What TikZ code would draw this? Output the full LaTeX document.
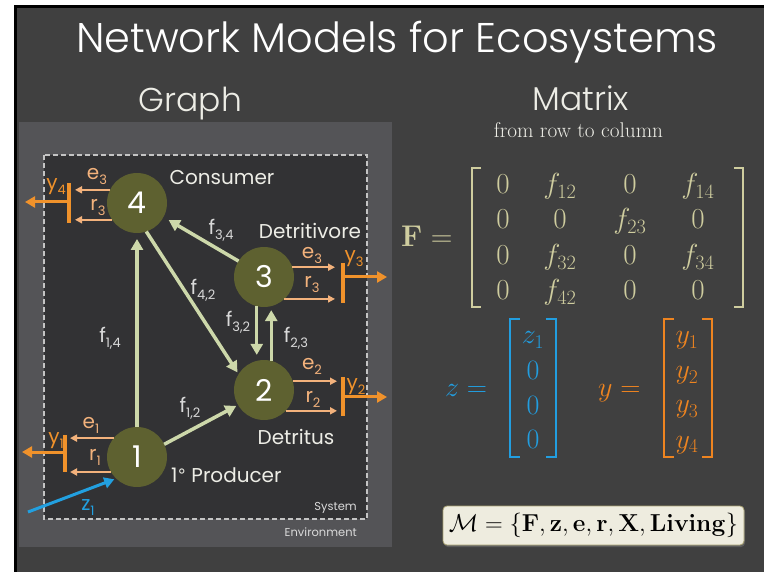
\RequirePackage{fix-cm}
\documentclass[tikz,border=0pt]{standalone}
\usepackage[no-math]{fontspec}
\newfontfamily\gothic{Poppins}
\newfontfamily\gothiclight{Poppins Light}
\newfontfamily\symbolfont{DejaVu Sans}
\usetikzlibrary{arrows.meta,shadows}

\definecolor{slidebg}{HTML}{404040}
\definecolor{panelbg}{HTML}{545457}
\definecolor{systembg}{HTML}{323234}
\definecolor{dashgray}{HTML}{C4C4C4}
\definecolor{olive}{HTML}{5E6130}
\definecolor{flowgreen}{HTML}{CDD8AA}
\definecolor{peach}{HTML}{F3B27C}
\definecolor{outorange}{HTML}{F0922B}
\definecolor{inblue}{HTML}{22A0E0}
\definecolor{softwhite}{HTML}{EDEDE6}
\definecolor{labelgray}{HTML}{DADADA}
\definecolor{khaki}{HTML}{CFCD9F}
\definecolor{vecblue}{HTML}{229EE0}
\definecolor{vecorange}{HTML}{EE8420}
\definecolor{cream}{HTML}{EEECDF}
\definecolor{creamedge}{HTML}{A9A272}

% sans label with a lowered index
\newcommand\gsub[2]{#1\raisebox{-5pt}{\fontsize{13}{13}\selectfont#2}}
\newcommand\gsz[1]{\fontsize{#1}{#1}\selectfont}

\begin{document}
\begin{tikzpicture}[x=1pt,y=-1pt,
  compartment/.style={circle,fill=olive,minimum size=60pt,inner sep=0pt,outer sep=0pt,
    text=white,font=\gothic\gsz{30}},
  flowarrow/.style={draw=flowgreen,line width=3.5pt,-{Triangle[length=11pt,width=12pt]}},
  lossarrow/.style={draw=peach,line width=2pt,-{Triangle[length=7pt,width=7pt]}},
  exitarrow/.style={draw=outorange,line width=3pt,-{Triangle[length=10pt,width=11pt]}},
  gate/.style={draw=outorange,line width=3.5pt},
  inarrow/.style={draw=inblue,line width=3pt,-{Triangle[length=10pt,width=11pt]}},
  rolelabel/.style={text=softwhite,font=\gothic\gsz{20},inner sep=0pt},
  flowlabel/.style={text=labelgray,font=\gothic\gsz{20},inner sep=0pt},
  losslabel/.style={text=peach,font=\gothic\gsz{20},inner sep=0pt},
  exitlabel/.style={text=outorange,font=\gothic\gsz{20},inner sep=0pt},
  boundlabel/.style={text=labelgray,font=\gothic\gsz{11.5},inner sep=0pt,anchor=east},
  heading/.style={text=softwhite,font=\gothiclight\gsz{33},inner sep=0pt,anchor=base},
  entry/.style={text=khaki,font=\gsz{29},inner sep=0pt,anchor=base},
  zentry/.style={text=vecblue,font=\gsz{28},inner sep=0pt,anchor=base},
  yentry/.style={text=vecorange,font=\gsz{28},inner sep=0pt,anchor=base},
  formula/.style={rounded corners=4pt,fill=cream,draw=creamedge,line width=0.8pt,
    minimum width=301pt,minimum height=39pt,inner sep=0pt,font=\gsz{24.5},
    drop shadow={opacity=0.45,shadow xshift=1pt,shadow yshift=-2pt}}
]
\useasboundingbox (0,0) rectangle (764,572);

% slide
\fill[white] (0,0) rectangle (764,572);
\fill[black] (14,5) rectangle (764,572);
\fill[slidebg] (17,8) rectangle (764,572);

% titles
\node[text=white,font=\gothiclight\gsz{41.5},inner sep=0pt,anchor=base] (title) at (397,53)
  {Network Models for Ecosystems};
\node[heading] (graphhead) at (190.5,112) {Graph};
\node[heading] (matrixhead) at (580.5,111) {Matrix};
\node[text=softwhite,font=\gsz{21.3},inner sep=0pt,anchor=base] (rowcol) at (578.5,138)
  {from row to column};

% graph panel and system boundary
\fill[panelbg] (19,122) rectangle (392,547);
\draw[fill=systembg,draw=dashgray,line width=1.1pt,dash pattern=on 5pt off 3pt]
  (44,155) rectangle (367,519);

% compartments
\node[compartment] (n4) at (137,203) {4};
\node[compartment] (n3) at (264,277) {3};
\node[compartment] (n2) at (264,390) {2};
\node[compartment] (n1) at (137,457) {1};

\node[rolelabel] (consumer) at (222,178) {Consumer};
\node[rolelabel] (detritivore) at (310,231) {Detritivore};
\node[rolelabel] (detritus) at (296,437) {Detritus};
\node[rolelabel,anchor=base west] (producer) at (171,482)
  {1{\symbolfont\gsz{17}\raisebox{1pt}{°}} Producer};
\node[boundlabel] (system) at (357,508) {System};
\node[boundlabel] (environment) at (357,532) {Environment};

% internal flows
\draw[flowarrow,shorten >=6pt] (n1.north) -- (n4.south);
\draw[flowarrow,shorten >=2pt] (n1.25) -- (n2.210);
\draw[flowarrow,shorten >=2pt] (n4.-72) -- (n2.148);
\draw[flowarrow,shorten >=6pt] (n3.148) -- (n4.-28);
\draw[flowarrow,shorten >=6pt] (n3.-104) -- (n2.104);
\draw[flowarrow,shorten >=4pt] (n2.76) -- (n3.-76);

\node[flowlabel] (f34) at (221,230) {\gsub{f}{3,4}};
\node[flowlabel] (f42) at (203,290) {\gsub{f}{4,2}};
\node[flowlabel] (f32) at (238,322) {\gsub{f}{3,2}};
\node[flowlabel] (f23) at (296,338) {\gsub{f}{2,3}};
\node[flowlabel] (f14) at (110,338) {\gsub{f}{1,4}};
\node[flowlabel] (f12) at (190,408) {\gsub{f}{1,2}};

% losses of compartment 4
\coordinate (l4) at (75,203);
\coordinate (g4a) at (69,183);
\coordinate (g4b) at (69,223);
\coordinate (g4m) at (69,202);
\coordinate (y4) at (25,202);
\draw[lossarrow] (n4.154) -- (n4.154 -| l4);
\draw[lossarrow] (n4.214) -- (n4.214 -| l4);
\draw[gate] (g4a) -- (g4b);
\draw[exitarrow] (g4m) -- (y4);
\node[losslabel] (e4lab) at (97,176) {\gsub{e}{3}};
\node[losslabel] (r4lab) at (98,207) {\gsub{r}{3}};
\node[exitlabel] (y4lab) at (56,187) {\gsub{y}{4}};

% losses of compartment 3
\coordinate (l3) at (335,277);
\coordinate (g3a) at (343,263);
\coordinate (g3b) at (343,303);
\coordinate (g3m) at (343,277);
\coordinate (y3) at (387,277);
\draw[lossarrow] (n3.19) -- (n3.19 -| l3);
\draw[lossarrow] (n3.-47) -- (n3.-47 -| l3);
\draw[gate] (g3a) -- (g3b);
\draw[exitarrow] (g3m) -- (y3);
\node[losslabel] (e3lab) at (312,255) {\gsub{e}{3}};
\node[losslabel] (r3lab) at (312,284) {\gsub{r}{3}};
\node[exitlabel] (y3lab) at (354,259) {\gsub{y}{3}};

% losses of compartment 2
\coordinate (l2) at (337,390);
\coordinate (g2a) at (343,377);
\coordinate (g2b) at (343,416);
\coordinate (g2m) at (343,397);
\coordinate (y2) at (387,397);
\draw[lossarrow] (n2.17) -- (n2.17 -| l2);
\draw[lossarrow] (n2.-44) -- (n2.-44 -| l2);
\draw[gate] (g2a) -- (g2b);
\draw[exitarrow] (g2m) -- (y2);
\node[losslabel] (e2lab) at (312,366) {\gsub{e}{2}};
\node[losslabel] (r2lab) at (313,399) {\gsub{r}{2}};
\node[exitlabel] (y2lab) at (356,387) {\gsub{y}{2}};

% losses of compartment 1
\coordinate (l1) at (70,457);
\coordinate (g1a) at (65,435);
\coordinate (g1b) at (65,472);
\coordinate (g1m) at (65,452);
\coordinate (y1) at (22,452);
\draw[lossarrow] (n1.141) -- (n1.141 -| l1);
\draw[lossarrow] (n1.210) -- (n1.210 -| l1);
\draw[gate] (g1a) -- (g1b);
\draw[exitarrow] (g1m) -- (y1);
\node[losslabel] (e1lab) at (91,425) {\gsub{e}{1}};
\node[losslabel] (r1lab) at (95,457) {\gsub{r}{1}};
\node[exitlabel] (y1lab) at (56,441) {\gsub{y}{1}};

% boundary input
\coordinate (z1src) at (28,512);
\draw[inarrow,shorten >=2pt] (z1src) -- (n1.226);
\node[text=inblue,font=\gothic\gsz{20},inner sep=0pt] (z1lab) at (88,508) {\gsub{z}{1}};

% flow matrix
\node[text=khaki,font=\gsz{30},inner sep=0pt,anchor=base west] (Flhs) at (401,247)
  {$\mathbf{F} =$};
\draw[khaki,line width=2pt] (481,168) -- (472,168) -- (472,307) -- (481,307);
\draw[khaki,line width=2pt] (734,168) -- (743,168) -- (743,307) -- (734,307);
\node[entry] (F11) at (503,194) {$0$};
\node[entry] (F12) at (560,194) {$f_{12}$};
\node[entry] (F13) at (630,194) {$0$};
\node[entry] (F14) at (698,194) {$f_{14}$};
\node[entry] (F21) at (503,229) {$0$};
\node[entry] (F22) at (560,229) {$0$};
\node[entry] (F23) at (630,229) {$f_{23}$};
\node[entry] (F24) at (698,229) {$0$};
\node[entry] (F31) at (503,265) {$0$};
\node[entry] (F32) at (560,265) {$f_{32}$};
\node[entry] (F33) at (630,265) {$0$};
\node[entry] (F34) at (698,265) {$f_{34}$};
\node[entry] (F41) at (503,300) {$0$};
\node[entry] (F42) at (560,300) {$f_{42}$};
\node[entry] (F43) at (630,300) {$0$};
\node[entry] (F44) at (698,300) {$0$};

% input vector
\node[text=vecblue,font=\gsz{28},inner sep=0pt,anchor=base west] (zlhs) at (445,397) {$z =$};
\draw[vecblue,line width=2.5pt] (520,319) -- (510,319) -- (510,457) -- (520,457);
\draw[vecblue,line width=2.5pt] (546,319) -- (556,319) -- (556,457) -- (546,457);
\node[zentry] (z1) at (533,344) {$z_1$};
\node[zentry] (z2) at (533,380) {$0$};
\node[zentry] (z3) at (533,414) {$0$};
\node[zentry] (z4) at (533,449) {$0$};

% output vector
\node[text=vecorange,font=\gsz{28},inner sep=0pt,anchor=base west] (ylhs) at (598,397) {$y =$};
\draw[vecorange,line width=2.5pt] (674,319) -- (664,319) -- (664,457) -- (674,457);
\draw[vecorange,line width=2.5pt] (702,319) -- (712,319) -- (712,457) -- (702,457);
\node[yentry] (yv1) at (687,344) {$y_1$};
\node[yentry] (yv2) at (687,379) {$y_2$};
\node[yentry] (yv3) at (687,413) {$y_3$};
\node[yentry] (yv4) at (687,448) {$y_4$};

% model tuple
\node[formula] (model) at (593.5,525.5)
  {$\mathcal{M} = \{\mathbf{F},\mathbf{z},\mathbf{e},\mathbf{r},\mathbf{X},\mathbf{Living}\}$};
\end{tikzpicture}
\end{document}
